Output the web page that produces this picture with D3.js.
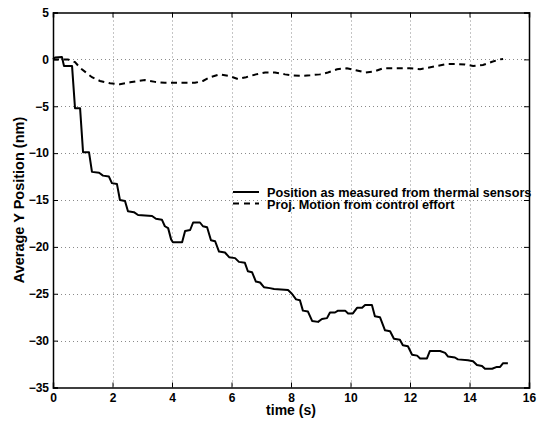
<!DOCTYPE html>
<html>
<head>
<meta charset="utf-8">
<script src="https://cdn.jsdelivr.net/npm/d3@7"></script>
<style>
    body { margin: 0; background: #fff; }
    svg { display: block; font-family: "Liberation Sans", Arial, sans-serif; font-weight: bold; }
</style>
</head>
<body>
<div id="chart"></div>
<script>
// Position as measured from thermal sensors (time s, position nm)
const measuredTime = [0, 0.07, 0.30, 0.37, 0.64, 0.74, 0.91, 1.01, 1.21, 1.31, 1.55, 1.68, 1.88, 1.98, 2.15,
    2.25, 2.42, 2.52, 2.72, 2.86, 3.33, 3.46, 3.66, 3.76, 3.87, 3.97, 4.03, 4.34, 4.44, 4.61, 4.71, 4.94,
    5.04, 5.18, 5.31, 5.45, 5.58, 5.78, 5.92, 6.12, 6.25, 6.45, 6.55, 6.69, 6.82, 6.96, 7.09, 7.29, 7.43,
    7.90, 8.03, 8.17, 8.30, 8.40, 8.57, 8.71, 8.91, 9.04, 9.21, 9.31, 9.48, 9.58, 9.82, 9.92, 10.08, 10.22,
    10.39, 10.49, 10.72, 10.82, 10.99, 11.16, 11.33, 11.46, 11.66, 11.76, 11.93, 12.07, 12.24, 12.34, 12.57,
    12.67, 13.01, 13.18, 13.28, 13.51, 13.61, 13.95, 14.12, 14.25, 14.42, 14.52, 14.76, 14.92, 15.03, 15.13, 15.29];
const measuredPos = [0, 0.2, 0.25, -0.7, -0.7, -5.2, -5.2, -9.9, -9.9, -12.0, -12.1, -12.4, -12.5, -13.2, -13.3,
    -15.0, -15.1, -16.2, -16.3, -16.6, -16.7, -17.0, -17.1, -17.8, -18.0, -19.2, -19.5, -19.5, -18.3, -18.2, -17.4, -17.4,
    -17.8, -17.9, -19.3, -19.4, -20.5, -20.6, -21.1, -21.2, -21.6, -21.7, -22.6, -22.7, -23.7, -23.8, -24.3, -24.4, -24.5,
    -24.6, -25.0, -25.6, -25.7, -26.8, -26.9, -27.9, -28.0, -27.7, -27.6, -27.0, -27.0, -26.8, -26.8, -27.1, -27.1, -26.5,
    -26.5, -26.2, -26.2, -27.4, -27.5, -28.9, -29.0, -29.8, -29.9, -30.5, -30.6, -31.5, -31.6, -31.9, -31.9,
    -31.1, -31.1, -31.3, -31.7, -31.8, -32.0, -32.1, -32.2, -32.6, -32.7, -33.0, -33.0, -32.8, -32.8, -32.4, -32.4];

// Projected motion from control effort
const projTime = [0, 0.50, 0.74, 0.91, 1.11, 1.31, 1.58, 1.92, 2.25, 2.59, 2.86, 3.09, 3.43, 3.76, 4.27, 4.77,
    5.04, 5.28, 5.61, 5.95, 6.22, 6.49, 6.82, 7.13, 7.46, 7.80, 8.03, 8.37, 8.64, 8.97, 9.24, 9.55, 9.88,
    10.18, 10.49, 10.79, 11.09, 11.50, 12.00, 12.34, 12.61, 12.91, 13.24, 13.51, 13.85, 14.12, 14.45, 14.76, 15.03, 15.13];
const projPos = [0, 0.0, -0.3, -0.9, -1.4, -1.9, -2.3, -2.55, -2.65, -2.45, -2.3, -2.2, -2.4, -2.5, -2.5, -2.5,
    -2.3, -1.9, -1.6, -1.8, -2.1, -1.9, -1.6, -1.4, -1.4, -1.6, -1.7, -1.75, -1.7, -1.6, -1.4, -1.05, -0.95,
    -1.15, -1.4, -1.3, -0.95, -0.95, -0.95, -1.05, -0.9, -0.7, -0.5, -0.5, -0.55, -0.7, -0.6, -0.25, 0.0, 0.05];

const xTicks = [0, 2, 4, 6, 8, 10, 12, 14, 16];
const yTicks = [5, 0, -5, -10, -15, -20, -25, -30, -35];
const legendLabels = ["Position as measured from thermal sensors", "Proj. Motion from control effort"];

const W = 542, H = 422;
const plot = { left: 53, right: 529, top: 12.5, bottom: 387.5 };

const svg = d3.select("#chart").append("svg")
    .attr("width", W)
    .attr("height", H);

const x = d3.scaleLinear().domain([0, 16]).range([plot.left, plot.right]);
const y = d3.scaleLinear().domain([-35, 5]).range([plot.bottom, plot.top]);

// Grid
const grid = svg.append("g")
    .attr("stroke", "#8a8a8a")
    .attr("stroke-width", 1)
    .attr("stroke-dasharray", "1,3");

grid.selectAll(".gx")
    .data(xTicks.slice(1, -1))
    .enter().append("line")
    .attr("x1", d => Math.round(x(d)) + 0.5)
    .attr("x2", d => Math.round(x(d)) + 0.5)
    .attr("y1", plot.top)
    .attr("y2", plot.bottom);

grid.selectAll(".gy")
    .data(yTicks.slice(1, -1))
    .enter().append("line")
    .attr("x1", plot.left)
    .attr("x2", plot.right)
    .attr("y1", d => Math.round(y(d)) + 0.5)
    .attr("y2", d => Math.round(y(d)) + 0.5);

// Data lines
const line = d3.line()
    .x(d => x(d[0]))
    .y(d => y(d[1]));

svg.append("path")
    .datum(d3.zip(projTime, projPos))
    .attr("fill", "none")
    .attr("stroke", "#000")
    .attr("stroke-width", 2)
    .attr("stroke-dasharray", "6,4.5")
    .attr("d", line);

svg.append("path")
    .datum(d3.zip(measuredTime, measuredPos))
    .attr("fill", "none")
    .attr("stroke", "#000")
    .attr("stroke-width", 2)
    .attr("stroke-linejoin", "round")
    .attr("d", line);

// Axes with inward ticks, box on
const tickLen = 5;
const xAxisB = d3.axisBottom(x).tickValues(xTicks).tickSize(-tickLen).tickPadding(6);
const yAxisL = d3.axisLeft(y).tickValues(yTicks).tickSize(-tickLen).tickPadding(4)
    .tickFormat(d => d < 0 ? "\u2212" + Math.abs(d) : d);

svg.append("g")
    .attr("transform", `translate(0, ${plot.bottom})`)
    .call(xAxisB);
svg.append("g")
    .attr("transform", `translate(${plot.left}, 0)`)
    .call(yAxisL);

svg.append("g")
    .attr("transform", `translate(0, ${plot.top})`)
    .call(d3.axisTop(x).tickValues(xTicks).tickSize(-tickLen).tickFormat(""));
svg.append("g")
    .attr("transform", `translate(${plot.right}, 0)`)
    .call(d3.axisRight(y).tickValues(yTicks).tickSize(-tickLen).tickFormat(""));

svg.selectAll(".domain").attr("stroke", "#000").attr("stroke-width", 1.5);
svg.selectAll(".tick line").attr("stroke", "#000").attr("stroke-width", 1);
svg.selectAll(".tick text")
    .attr("fill", "#000")
    .style("font-family", "'Liberation Sans', Arial, sans-serif")
    .style("font-weight", "bold")
    .style("font-size", "12px");

// Axis labels
svg.append("text")
    .attr("x", (plot.left + plot.right) / 2)
    .attr("y", 415)
    .attr("text-anchor", "middle")
    .style("font-size", "14px")
    .text("time (s)");

svg.append("text")
    .attr("transform", `translate(24, ${(plot.top + plot.bottom) / 2}) rotate(-90)`)
    .attr("text-anchor", "middle")
    .style("font-size", "14.5px")
    .text("Average Y Position (nm)");

// Legend (no box)
const legend = svg.append("g")
    .attr("transform", "translate(233, 192)");

const entries = legend.selectAll(".entry")
    .data(legendLabels)
    .enter().append("g")
    .attr("transform", (d, i) => `translate(0, ${i * 11.5})`);

entries.append("line")
    .attr("x1", 0)
    .attr("x2", 26)
    .attr("stroke", "#000")
    .attr("stroke-width", 2)
    .attr("stroke-dasharray", (d, i) => i === 0 ? null : "6,5");

entries.append("text")
    .attr("x", 34)
    .attr("y", 5)
    .style("font-size", "12.7px")
    .text(d => d);
</script>
</body>
</html>
